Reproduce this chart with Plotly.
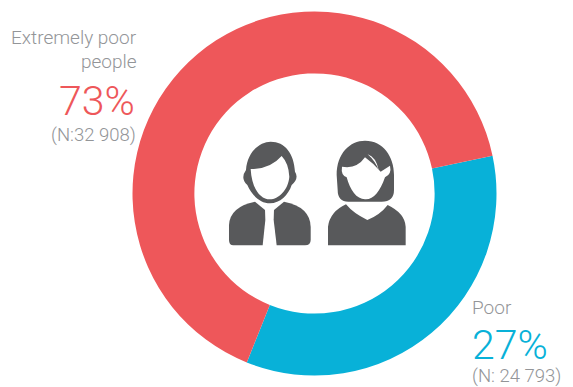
import re
import plotly.graph_objects as go

W, H = 573, 387
categories = ["Poor", "Extremely poor people"]
arc_shares = [34.4, 65.6]
percent_labels = ["27%", "73%"]
count_labels = ["(N: 24 793)", "(N:32 908)"]
colors = ["#08b1d8", "#ee575a"]
GREY = "#939598"
ICON = "#58595b"
FONT = "Roboto"

CX, CY, R = 314.5, 193.5, 182
fig = go.Figure(go.Pie(
    labels=categories, values=arc_shares, hole=0.66, sort=False,
    direction="clockwise", rotation=78, textinfo="none", hoverinfo="label+percent",
    marker=dict(colors=colors, line=dict(width=0)),
    domain=dict(x=[(CX - R) / W, (CX + R) / W],
                y=[1 - (CY + R) / H, 1 - (CY - R) / H]),
    showlegend=False,
))


def conv(path):
    """Icon outline, written in a 3x zoom of the region at (210,120), to paper coordinates."""
    toks = re.findall(r"[MLQCZ]|-?[\d.]+", path)
    out, is_x = [], True
    for t in toks:
        if t.isalpha():
            out.append(t)
            is_x = True
        elif is_x:
            out.append(f"{(210 + float(t) / 3) / W:.5f},")
            is_x = False
        else:
            out.append(f"{1 - (120 + float(t) / 3) / H:.5f}")
            is_x = True
    return " ".join(out).replace(", ", ",")


icon_paths = [
    # man
    ("M108 150 C112 95 150 65 182 65 C225 65 252 100 255 155 Q268 175 245 195 C235 225 210 250 180 250 C150 250 125 225 112 195 Q90 175 108 150 Z", ICON),
    ("M122 147 Q180 148 215 108 Q236 130 238 170 C235 210 205 238 180 238 C150 238 125 205 122 147 Z", "white"),
    ("M135 245 L165 270 L166 300 L158 376 L70 376 Q57 376 57 360 L57 315 Q60 260 135 245 Z", ICON),
    ("M222 245 Q300 260 302 320 L302 360 Q302 376 285 376 L200 376 L191 300 L192 270 Z", ICON),
    # woman
    ("M380 165 C380 100 420 62 465 62 C520 62 552 110 552 165 L552 210 Q552 245 515 245 L415 245 Q383 245 383 210 Z", ICON),
    ("M396 140 Q440 148 465 112 Q490 130 512 155 L540 137 Q546 162 525 172 C510 215 490 240 465 238 C440 238 420 210 410 172 Q392 165 396 140 Z", "white"),
    ("M473 103 Q497 110 507 152 Q495 122 473 103 Z", "white"),
    ("M408 253 Q430 280 472 300 Q510 285 533 255 Q585 280 587 320 L587 376 L354 376 L354 320 Q360 275 408 253 Z", ICON),
]
shapes = [dict(type="path", xref="paper", yref="paper", path=conv(p), fillcolor=c,
               line=dict(width=0), layer="above") for p, c in icon_paths]


def label(text, x, y, size, color, anchor):
    return dict(text=text, x=x / W, y=1 - y / H, xref="paper", yref="paper",
                xanchor=anchor, yanchor="middle", showarrow=False,
                font=dict(family=FONT, size=size, color=color, weight=300), align=anchor)


annotations = [
    label("Extremely poor", 139, 37, 19, GREY, "right"),
    label("people", 139, 62, 19, GREY, "right"),
    label(percent_labels[1], 137, 101, 41, colors[1], "right"),
    label(count_labels[1], 138, 135, 18.5, GREY, "right"),
    label(categories[0], 470, 307, 19, GREY, "left"),
    label(percent_labels[0], 470, 345, 41, colors[0], "left"),
    label(count_labels[0], 470, 376, 18.5, GREY, "left"),
]

fig.update_layout(width=W, height=H, margin=dict(l=0, r=0, t=0, b=0),
                  paper_bgcolor="white", shapes=shapes, annotations=annotations)
fig.write_html("out.html", config=dict(displayModeBar=False),
               post_script="document.body.style.margin='0';document.documentElement.style.overflow='hidden';")
